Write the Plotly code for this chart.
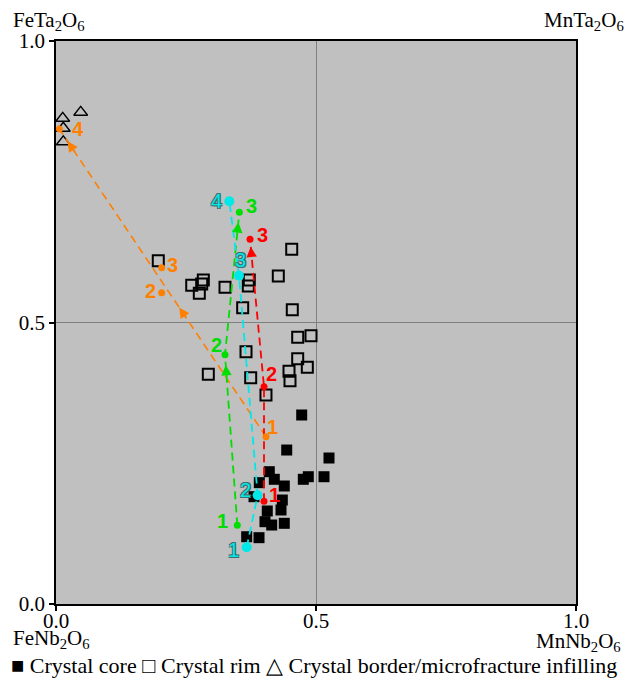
import plotly.graph_objects as go

# ---------------- data ----------------
core_x = [0.4725, 0.4437, 0.525, 0.5154, 0.4852, 0.4756, 0.4102, 0.4198, 0.439, 0.391,
          0.3808, 0.4352, 0.4327, 0.4063, 0.4019, 0.4148, 0.439, 0.3667, 0.3904]
core_y = [0.3357, 0.2735, 0.2593, 0.2261, 0.2261, 0.2215, 0.235, 0.2215, 0.2096, 0.2155,
          0.1906, 0.1847, 0.167, 0.1652, 0.1462, 0.1403, 0.1433, 0.1195, 0.1178]

rim_x = [0.4533, 0.4275, 0.3717, 0.3698, 0.325, 0.2833, 0.261, 0.2802, 0.2756, 0.359, 0.4544,
         0.4904, 0.4648, 0.4648, 0.4833, 0.4481, 0.45, 0.3654, 0.3744, 0.2929, 0.4038, 0.1967]
rim_y = [0.630, 0.5826, 0.5755, 0.5648, 0.5625, 0.5755, 0.5661, 0.5684, 0.5519, 0.5263, 0.5227,
         0.4766, 0.4737, 0.4357, 0.4204, 0.4133, 0.3966, 0.4481, 0.402, 0.408, 0.3712, 0.6098]

border_x = [0.0129, 0.0475, 0.014, 0.014]
border_y = [0.8627, 0.8734, 0.845, 0.821]

cyan_x = [0.3667, 0.3878, 0.3519, 0.3333]
cyan_y = [0.1007, 0.1931, 0.5831, 0.7153]
green_x = [0.3487, 0.325, 0.3526]
green_y = [0.1397, 0.4429, 0.6957]
red_x = [0.40, 0.40, 0.3731]
red_y = [0.1824, 0.386, 0.6478]
orange_x = [0.4038, 0.2032, 0.2032, 0.0064]
orange_y = [0.2972, 0.553, 0.5974, 0.8437]

tick_vals = [0.0, 0.5, 1.0]
tick_text = ["0.0", "0.5", "1.0"]

ORANGE = "#FF8000"
GREEN = "#00DD00"
RED = "#FF0000"
CYAN = "#00E8E8"

SERIF = "Liberation Serif, Times New Roman, serif"
SANS = "Liberation Sans, Arial, sans-serif"

fig = go.Figure()

# samples
fig.add_trace(go.Scatter(x=rim_x, y=rim_y, mode="markers",
                         marker=dict(symbol="square-open", size=11, color="black",
                                     line=dict(width=2, color="black"))))
fig.add_trace(go.Scatter(x=core_x, y=core_y, mode="markers",
                         marker=dict(symbol="square", size=11, color="black")))
fig.add_trace(go.Scatter(x=border_x, y=border_y, mode="markers",
                         marker=dict(symbol="triangle-up-open", size=12, color="black",
                                     line=dict(width=1.4, color="black"))))

DASH = "8px,5px"

# orange path: straight dashed line from first to last point
fig.add_trace(go.Scatter(x=[orange_x[0], orange_x[-1]], y=[orange_y[0], orange_y[-1]],
                         mode="lines", line=dict(color=ORANGE, width=1.6, dash=DASH)))
# other paths
for px, py, col in [(red_x, red_y, RED), (green_x, green_y, GREEN), (cyan_x, cyan_y, CYAN)]:
    fig.add_trace(go.Scatter(x=px, y=py, mode="lines",
                             line=dict(color=col, width=1.8, dash=DASH)))

# dots
for px, py, col, sz in [(orange_x, orange_y, ORANGE, 7), (red_x, red_y, RED, 7),
                        (green_x, green_y, GREEN, 7), (cyan_x, cyan_y, CYAN, 10)]:
    fig.add_trace(go.Scatter(x=px, y=py, mode="markers",
                             marker=dict(color=col, size=sz)))

annotations = []

# arrowheads along segments
def arrow(x0, y0, x1, y1, frac, col):
    tx = x0 + (x1 - x0) * frac
    ty = y0 + (y1 - y0) * frac
    bx = x0 + (x1 - x0) * (frac - 0.04)
    by = y0 + (y1 - y0) * (frac - 0.04)
    annotations.append(dict(x=tx, y=ty, ax=bx, ay=by, xref="x", yref="y",
                            axref="x", ayref="y", text="", showarrow=True,
                            arrowhead=2, arrowsize=1.3, arrowwidth=1.6, arrowcolor=col))

arrow(orange_x[0], orange_y[0], orange_x[-1], orange_y[-1], 0.42, ORANGE)
arrow(orange_x[0], orange_y[0], orange_x[-1], orange_y[-1], 0.96, ORANGE)
arrow(green_x[0], green_y[0], green_x[1], green_y[1], 0.94, GREEN)
arrow(green_x[1], green_y[1], green_x[2], green_y[2], 0.93, GREEN)
arrow(cyan_x[2], cyan_y[2], cyan_x[3], cyan_y[3], 0.92, CYAN)
arrow(red_x[1], red_y[1], red_x[2], red_y[2], 0.95, RED)

# point labels (offsets in px)
label_offsets = {
    "cyan": [(-13, -3), (-12, 5), (2, 16), (-13, 0)],
    "green": [(-15, 4), (-9, 10), (12, 6)],
    "red": [(10, 6), (7, 13), (12, 4)],
    "orange": [(7, 10), (-11, 2), (11, 3), (19, 0)],
}
for name, px, py, col in [("orange", orange_x, orange_y, ORANGE), ("red", red_x, red_y, RED),
                          ("green", green_x, green_y, GREEN), ("cyan", cyan_x, cyan_y, CYAN)]:
    for i, (xx, yy) in enumerate(zip(px, py)):
        dx, dy = label_offsets[name][i]
        font = dict(family=SANS, size=20, color=col, weight="bold")
        if name == "cyan":
            font["shadow"] = "-1px -1px 0 #3a7070, 1px -1px 0 #3a7070, -1px 1px 0 #3a7070, 1px 1px 0 #3a7070"
            font["weight"] = "normal"
        annotations.append(dict(x=xx, y=yy, xref="x", yref="y", text=str(i + 1),
                                showarrow=False, xshift=dx, yshift=dy, font=font))

# x tick labels placed just under the axis
for v, t in zip(tick_vals, tick_text):
    annotations.append(dict(x=v, y=0, xref="x", yref="paper", xanchor="center", yanchor="top",
                            text=t, showarrow=False, yshift=-3,
                            font=dict(family=SERIF, size=21, color="black")))

# corner end-member labels
corner_font = dict(family=SERIF, size=21, color="black")
annotations += [
    dict(x=-0.086, y=1.036, xref="paper", yref="paper", xanchor="left", yanchor="middle",
         text="FeTa<sub>2</sub>O<sub>6</sub>", showarrow=False, font=corner_font),
    dict(x=1.096, y=1.036, xref="paper", yref="paper", xanchor="right", yanchor="middle",
         text="MnTa<sub>2</sub>O<sub>6</sub>", showarrow=False, font=corner_font),
    dict(x=-0.086, y=-0.063, xref="paper", yref="paper", xanchor="left", yanchor="middle",
         text="FeNb<sub>2</sub>O<sub>6</sub>", showarrow=False, font=corner_font),
    dict(x=1.09, y=-0.067, xref="paper", yref="paper", xanchor="right", yanchor="middle",
         text="MnNb<sub>2</sub>O<sub>6</sub>", showarrow=False, font=corner_font),
    dict(x=-0.09, y=-0.11, xref="paper", yref="paper", xanchor="left", yanchor="middle",
         text="■ Crystal core □ Crystal rim △ Crystal border/microfracture infilling",
         showarrow=False, font=dict(family=SERIF, size=22, color="black")),
]

axis_common = dict(range=[0, 1], tickvals=tick_vals, ticktext=tick_text,
                   ticks="outside", ticklen=5, tickwidth=1.5, tickcolor="black",
                   showline=True, linecolor="black", linewidth=1.5, mirror=True,
                   showgrid=True, gridcolor="#808080", gridwidth=1, zeroline=False,
                   tickfont=dict(family=SERIF, size=21, color="black"), fixedrange=True)

fig.update_layout(
    width=627, height=682,
    margin=dict(l=56, r=51, t=41, b=78),
    paper_bgcolor="white", plot_bgcolor="#C0C0C0",
    showlegend=False,
    xaxis=dict(**axis_common, showticklabels=False),
    yaxis=dict(**axis_common),
    annotations=annotations,
)

fig.write_html("out.html")
